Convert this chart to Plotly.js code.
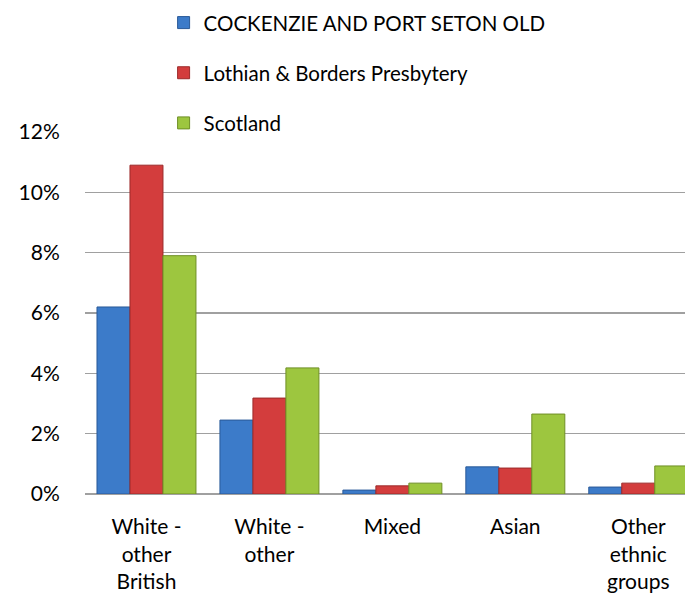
<!DOCTYPE html>
<html><head><meta charset="utf-8">
<script src="https://cdn.plot.ly/plotly-3.0.1.min.js"></script>
<style>html,body{margin:0;padding:0;background:#fff}#chart{width:685px;height:600px}</style>
</head><body><div id="chart"></div>
<script>
const categories = ["White - other British", "White - other", "Mixed", "Asian", "Other ethnic groups"];
const tickLabels = ["White -<br>other<br>British", "White -<br>other", "Mixed", "Asian", "Other<br>ethnic<br>groups"];
const seriesNames = ["COCKENZIE AND PORT SETON OLD", "Lothian & Borders Presbytery", "Scotland"];
const cockenzie = [0.062, 0.0245, 0.0013, 0.009, 0.0023];
const lothian = [0.109, 0.0318, 0.0027, 0.0086, 0.0036];
const scotland = [0.079, 0.0418, 0.0036, 0.0265, 0.0093];
const yTicks = [0, 0.02, 0.04, 0.06, 0.08, 0.10, 0.12];

const fills = ["#3c7bc9", "#d33d3d", "#9dc63f"];
const edges = ["#2a5a98", "#9c2a2a", "#6f8f25"];
const values = [cockenzie, lothian, scotland];
const idx = categories.map((c, i) => i);

const traces = values.map((v, k) => ({
  type: "bar",
  name: seriesNames[k],
  x: idx,
  y: v,
  legendgroup: "g" + k,
  marker: {color: fills[k], line: {color: edges[k], width: 1}},
  hoverinfo: "skip"
}));

const font = "Lato, 'Open Sans', sans-serif";
const layout = {
  width: 685, height: 600,
  margin: {l: 85, r: 0, t: 132, b: 106},
  paper_bgcolor: "#fff", plot_bgcolor: "#fff",
  font: {family: font, size: 21, color: "#000"},
  barmode: "group",
  bargap: 0.195,
  bargroupgap: 0,
  showlegend: true,
  legend: {
    x: 0.131, xanchor: "left", xref: "paper",
    y: 1.357, yanchor: "top", yref: "paper",
    orientation: "v", traceorder: "grouped", tracegroupgap: 20.5,
    font: {family: font, size: 20.5, color: "#000"},
    bgcolor: "rgba(0,0,0,0)"
  },
  xaxis: {
    range: [-0.5, 4.38],
    tickmode: "array", tickvals: idx, ticktext: tickLabels,
    showgrid: false, zeroline: false, showline: false,
    ticks: "outside", ticklen: 14, tickcolor: "rgba(0,0,0,0)",
    fixedrange: true
  },
  yaxis: {
    range: [0, 0.12],
    tickmode: "array", tickvals: yTicks, tickformat: ".0%",
    showgrid: true, gridcolor: "#a0a0a0", gridwidth: 1.5,
    zeroline: true, zerolinecolor: "#a0a0a0", zerolinewidth: 2,
    showline: false,
    ticks: "outside", ticklen: 20, tickcolor: "rgba(0,0,0,0)",
    fixedrange: true
  }
};
Plotly.newPlot("chart", traces, layout, {displayModeBar: false, staticPlot: true});
</script></body></html>
